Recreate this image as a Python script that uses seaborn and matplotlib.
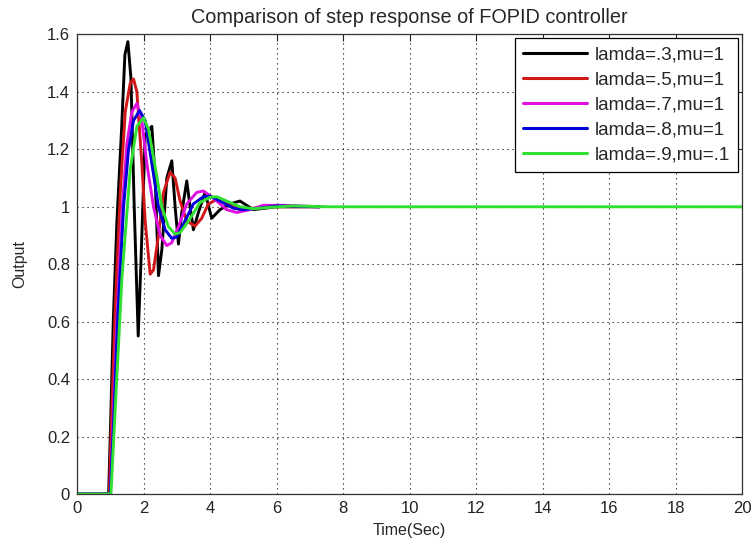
import numpy as np
import pandas as pd
import seaborn as sns
import matplotlib
matplotlib.use("Agg")
import matplotlib.pyplot as plt
from matplotlib import font_manager

# Step responses of the FOPID controller for several (lamda, mu) settings
labels = ["lamda=.3,mu=1", "lamda=.5,mu=1", "lamda=.7,mu=1", "lamda=.8,mu=1", "lamda=.9,mu=.1"]

t_l3 = [0, 0.95, 1.0, 1.09, 1.2, 1.34, 1.44, 1.53, 1.62, 1.72, 1.84, 1.92, 2.05, 2.25, 2.35,
        2.45, 2.55, 2.7, 2.85, 2.95, 3.05, 3.15, 3.3, 3.4, 3.5, 3.65, 3.85, 4.05, 4.3, 4.6,
        4.9, 5.3, 6.0, 7.3]
y_l3 = [0, 0, 0.2, 0.6, 0.95, 1.27, 1.53, 1.575, 1.45, 1.0, 0.55, 0.8, 1.25, 1.28, 1.1,
        0.76, 0.85, 1.1, 1.16, 1.0, 0.87, 0.98, 1.09, 1.0, 0.92, 0.98, 1.05, 0.96, 0.99, 1.01,
        1.02, 0.99, 1.0, 1.0]

t_l5 = [0, 0.97, 1.05, 1.15, 1.3, 1.45, 1.6, 1.7, 1.8, 1.95, 2.05, 2.2, 2.3, 2.45, 2.6,
        2.8, 2.95, 3.1, 3.3, 3.55, 3.75, 3.95, 4.2, 4.5, 4.9, 5.3, 6.0, 7.3]
y_l5 = [0, 0, 0.3, 0.65, 1.05, 1.33, 1.43, 1.445, 1.4, 1.15, 0.95, 0.765, 0.78, 0.9, 1.05,
        1.12, 1.1, 1.02, 0.95, 0.933, 0.96, 1.01, 1.025, 1.01, 0.99, 0.995, 1.0, 1.0]

t_l7 = [0, 1.0, 1.08, 1.2, 1.35, 1.5, 1.65, 1.8, 1.95, 2.1, 2.3, 2.5, 2.7, 2.85, 3.05,
        3.3, 3.6, 3.8, 4.1, 4.5, 4.8, 5.2, 5.6, 6.2, 7.3]
y_l7 = [0, 0, 0.25, 0.6, 0.98, 1.22, 1.33, 1.36, 1.3, 1.15, 1.0, 0.9, 0.865, 0.875, 0.93,
        1.01, 1.05, 1.055, 1.03, 0.99, 0.98, 0.99, 1.005, 1.005, 1.0]

t_l8 = [0, 1.0, 1.1, 1.22, 1.4, 1.55, 1.7, 1.88, 2.05, 2.25, 2.45, 2.65, 2.85, 3.0, 3.2,
        3.5, 3.8, 4.0, 4.3, 4.7, 5.0, 5.5, 6.0, 7.3]
y_l8 = [0, 0, 0.25, 0.6, 1.0, 1.2, 1.3, 1.335, 1.3, 1.15, 1.0, 0.92, 0.89, 0.895, 0.94,
        1.01, 1.035, 1.037, 1.02, 0.995, 0.99, 0.995, 1.003, 1.0]

t_l9 = [0, 1.02, 1.15, 1.35, 1.6, 1.8, 2.0, 2.15, 2.35, 2.55, 2.75, 2.95, 3.1, 3.35, 3.7,
        4.0, 4.2, 4.5, 4.9, 5.3, 5.8, 6.5, 7.5, 20.0]
y_l9 = [0, 0, 0.3, 0.75, 1.13, 1.28, 1.31, 1.27, 1.14, 1.0, 0.93, 0.905, 0.91, 0.95, 1.015,
        1.033, 1.035, 1.02, 1.0, 0.993, 0.998, 1.003, 1.0, 1.0]

colors = ["#000000", "#d01818", "#e010e0", "#0000d8", "#30e030"]

series_t = [t_l3, t_l5, t_l7, t_l8, t_l9]
series_y = [y_l3, y_l5, y_l7, y_l8, y_l9]

frames = []
for lab, tt, yy in zip(labels, series_t, series_y):
    frames.append(pd.DataFrame({"Time(Sec)": tt, "Output": yy, "case": lab}))
df = pd.concat(frames, ignore_index=True)

sns.set_style("white")
avail = {f.name for f in font_manager.fontManager.ttflist}
fam = "Liberation Sans Narrow" if "Liberation Sans Narrow" in avail else "Liberation Sans"
plt.rcParams["font.family"] = [fam, "DejaVu Sans"]

fig = plt.figure(figsize=(7.55, 5.47), dpi=100)
ax = fig.add_axes([0.102, 0.097, 0.881, 0.840])

sns.lineplot(data=df, x="Time(Sec)", y="Output", hue="case", palette=colors,
             hue_order=labels, units="case", estimator=None, sort=False,
             linewidth=2.1, ax=ax)

ax.set_xlim(0, 20)
ax.set_ylim(0, 1.6)
ax.set_xticks(np.arange(0, 21, 2))
ax.set_yticks(np.round(np.arange(0, 1.61, 0.2), 1))
ax.set_yticklabels(["0", "0.2", "0.4", "0.6", "0.8", "1", "1.2", "1.4", "1.6"])
ax.grid(True, color="black", linestyle=(0, (1, 3.5)), linewidth=0.8)
ax.tick_params(direction="in", length=5, width=0.8, top=True, right=True,
               labelsize=12, colors="#222222", pad=5)
for sp in ax.spines.values():
    sp.set_color("#333333")
    sp.set_linewidth(0.9)

ax.set_xlabel("Time(Sec)", fontsize=11.5, labelpad=5)
ax.set_ylabel("Output", fontsize=11.5, labelpad=14)
ax.set_title("Comparison of step response of FOPID controller", fontsize=14.3, pad=8)

leg = ax.legend(loc="upper right", fontsize=13.5, handlelength=3.4, frameon=True,
                fancybox=False, framealpha=1, edgecolor="black", borderaxespad=0.2,
                labelspacing=0.42, handletextpad=0.4, borderpad=0.45)
leg.get_frame().set_linewidth(0.9)
for line in leg.get_lines():
    line.set_linewidth(2.2)

fig.savefig("out.png", dpi=100)
